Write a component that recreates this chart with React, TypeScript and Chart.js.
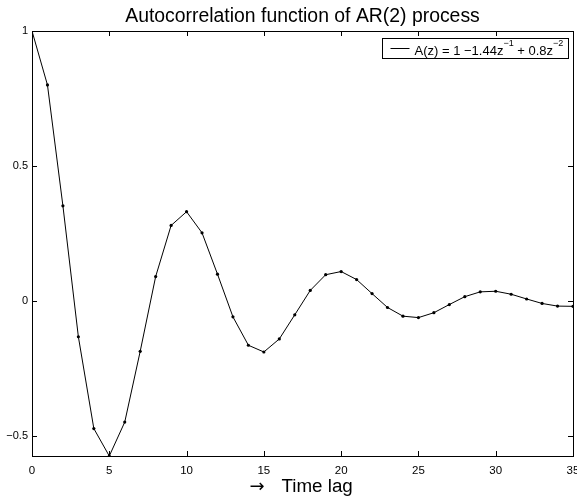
import { useEffect, useRef } from 'react';
import { Chart, registerables } from 'chart.js';

Chart.register(...registerables);

const lags = [0, 1, 2, 3, 4, 5, 6, 7, 8, 9, 10, 11, 12, 13, 14, 15, 16, 17, 18, 19, 20, 21, 22, 23, 24, 25, 26, 27, 28, 29, 30, 31, 32, 33, 34, 35];
const acf = [1.0, 0.8, 0.352, -0.1331, -0.4733, -0.5751, -0.4494, -0.1872, 0.0901, 0.2794, 0.3303, 0.2521, 0.0988, -0.0594, -0.1646, -0.1895, -0.1412, -0.0517, 0.0385, 0.0968, 0.1086, 0.0789, 0.0268, -0.0246, -0.0568, -0.0621, -0.044, -0.0137, 0.0155, 0.0333, 0.0355, 0.0245, 0.0069, -0.0097, -0.0195, -0.0203];
const xTicks = [0, 5, 10, 15, 20, 25, 30, 35];
const yTicks = [-0.5, 0, 0.5, 1];
const yMin = -0.575;
const yMax = 1;
const titleText = 'Autocorrelation function of AR(2) process';
const xArrow = '\u2192';
const xAxisTitle = 'Time lag';
const legendPieces = [
  { text: 'A(z) = 1 \u22121.44z', sup: false },
  { text: '\u22121', sup: true },
  { text: ' + 0.8z', sup: false },
  { text: '\u22122', sup: true },
];

const FONT = '"Liberation Sans", Arial, Helvetica, sans-serif';

const boxPlugin = {
  id: 'matlabBox',
  afterDraw(chart: any) {
    const { ctx, chartArea } = chart;
    const { left, right, top, bottom } = chartArea;
    const xs = chart.scales.x;
    const ys = chart.scales.y;
    ctx.save();
    ctx.strokeStyle = '#000';
    ctx.lineWidth = 1;
    ctx.strokeRect(Math.round(left) + 0.5, Math.round(top) + 0.5, Math.round(right - left), Math.round(bottom - top));
    const tl = 5;
    ctx.beginPath();
    xTicks.forEach((v) => {
      const px = Math.round(xs.getPixelForValue(v)) + 0.5;
      ctx.moveTo(px, bottom);
      ctx.lineTo(px, bottom - tl);
      ctx.moveTo(px, top);
      ctx.lineTo(px, top + tl);
    });
    yTicks.forEach((v) => {
      const py = Math.round(ys.getPixelForValue(v)) + 0.5;
      ctx.moveTo(left, py);
      ctx.lineTo(left + tl, py);
      ctx.moveTo(right, py);
      ctx.lineTo(right - tl, py);
    });
    ctx.stroke();

    // title centred over the plot area
    ctx.fillStyle = '#000';
    ctx.textAlign = 'center';
    ctx.textBaseline = 'alphabetic';
    ctx.font = `19.4px ${FONT}`;
    ctx.fillText(titleText, (left + right) / 2, top - 9);

    // x axis label
    const cx = (left + right) / 2;
    ctx.textAlign = 'left';
    ctx.font = `18px "DejaVu Sans", ${FONT}`;
    ctx.fillText(xArrow, cx - 53, bottom + 36);
    ctx.font = `18.8px ${FONT}`;
    ctx.fillText(xAxisTitle, cx - 21, bottom + 36);

    // legend
    const mainFont = `13px ${FONT}`;
    const supFont = `9px ${FONT}`;
    let total = 0;
    legendPieces.forEach((p) => {
      ctx.font = p.sup ? supFont : mainFont;
      total += ctx.measureText(p.text).width;
    });
    const boxW = Math.round(32 + total + 5);
    const boxH = 20;
    const bx = Math.round(right - 5 - boxW) + 0.5;
    const by = Math.round(top + 7) + 0.5;
    ctx.fillStyle = '#fff';
    ctx.fillRect(bx, by, boxW, boxH);
    ctx.strokeRect(bx, by, boxW, boxH);
    const my = Math.round(by + boxH / 2) - 1;
    ctx.beginPath();
    ctx.moveTo(bx + 8, my + 0.5);
    ctx.lineTo(bx + 27, my + 0.5);
    ctx.stroke();
    let tx = bx + 32;
    ctx.fillStyle = '#000';
    ctx.textAlign = 'left';
    ctx.textBaseline = 'alphabetic';
    const base = by + 16.5;
    legendPieces.forEach((p) => {
      ctx.font = p.sup ? supFont : mainFont;
      ctx.fillText(p.text, tx, p.sup ? base - 9.5 : base);
      tx += ctx.measureText(p.text).width;
    });
    ctx.restore();
  },
};

export default function App() {
  const ref = useRef<HTMLCanvasElement | null>(null);
  useEffect(() => {
    document.body.style.margin = '0';
    const canvas = ref.current;
    if (!canvas) return;
    const chart = new Chart(canvas, {
      type: 'line',
      data: {
        labels: lags,
        datasets: [
          {
            label: 'A(z)',
            data: lags.map((x, i) => ({ x, y: acf[i] })),
            borderColor: '#000',
            backgroundColor: '#000',
            borderWidth: 1,
            pointRadius: 1.6,
            pointBorderWidth: 0,
            pointBackgroundColor: '#000',
            tension: 0,
            fill: false,
          },
        ],
      },
      options: {
        responsive: false,
        animation: false,
        events: [],
        layout: { padding: { left: 0, right: 3, top: 31, bottom: 0 } },
        plugins: {
          legend: { display: false },
          tooltip: { enabled: false },
          title: { display: false },
        },
        scales: {
          x: {
            type: 'linear',
            min: 0,
            max: 35,
            grid: { display: false, drawTicks: false },
            border: { display: false },
            ticks: {
              color: '#000',
              font: { family: FONT, size: 11.5 },
              padding: 8,
              maxRotation: 0,
            },
            afterBuildTicks: (s: any) => {
              s.ticks = xTicks.map((v) => ({ value: v }));
            },
            afterFit: (s: any) => {
              s.height = 43;
              s.paddingLeft = 0;
              s.paddingRight = 0;
            },
          },
          y: {
            type: 'linear',
            min: yMin,
            max: yMax,
            grid: { display: false, drawTicks: false },
            border: { display: false },
            ticks: {
              color: '#000',
              font: { family: FONT, size: 11 },
              padding: 4,
              callback: (v: any) => String(v).replace('-', '\u2212'),
            },
            afterBuildTicks: (s: any) => {
              s.ticks = yTicks.map((v) => ({ value: v }));
            },
            afterFit: (s: any) => {
              s.width = 32;
              s.paddingTop = 0;
              s.paddingBottom = 0;
            },
          },
        },
      },
      plugins: [boxPlugin],
    } as any);
    return () => chart.destroy();
  }, []);
  return (
    <div style={{ position: 'absolute', left: 0, top: 0, width: 577, height: 499, background: '#fff' }}>
      <canvas ref={ref} width={577} height={499} style={{ display: 'block' }} />
    </div>
  );
}
